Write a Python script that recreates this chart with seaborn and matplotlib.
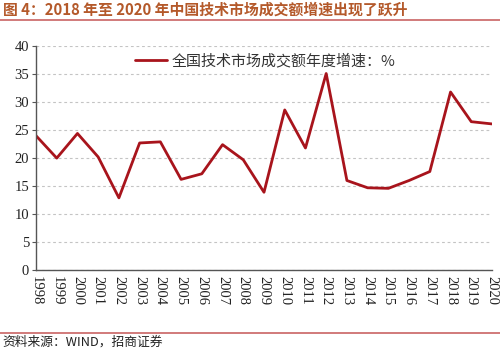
import matplotlib
matplotlib.use("Agg")
import matplotlib.pyplot as plt
from matplotlib.lines import Line2D
import seaborn as sns
import pandas as pd

years = [str(y) for y in range(1998, 2021)]
growth = [24.0, 20.0, 24.4, 20.2, 12.9, 22.7, 22.9, 16.2, 17.2, 22.4, 19.7,
          13.9, 28.6, 21.8, 35.1, 16.0, 14.7, 14.6, 16.0, 17.6, 31.8, 26.5, 26.1]
y_ticks = [0, 5, 10, 15, 20, 25, 30, 35, 40]

title = "图 4：2018 年至 2020 年中国技术市场成交额增速出现了跃升"
series_name = "全国技术市场成交额年度增速：%"
source = "资料来源：WIND，招商证券"

sns.set_theme(style="white")
cjk = ["Noto Sans CJK SC", "DejaVu Sans"]
serif = ["Liberation Serif", "DejaVu Serif"]
plt.rcParams["font.family"] = cjk

df = pd.DataFrame({"year": years, "growth": growth})

fig = plt.figure(figsize=(5.0, 3.49), dpi=100)
ax = fig.add_axes([0.072, 0.226, 0.912, 0.642])

sns.lineplot(data=df, x="year", y="growth", ax=ax, color="#A8141C",
             linewidth=2.0, sort=False, legend=False)

ax.set_xlim(0, len(years) - 1)
ax.set_ylim(0, 40)
ax.set_yticks(y_ticks)
ax.set_yticklabels([str(v) for v in y_ticks], fontfamily=serif, fontsize=10.5,
                   color="#222222")
ax.set_xticks(range(len(years)))
ax.set_xticklabels(years, rotation=-90, fontfamily=serif, fontsize=10.5,
                   color="#222222")
ax.set_xlabel("")
ax.set_ylabel("")

ax.yaxis.grid(True, linestyle=(0, (2.5, 2.5)), color="#C4C4C4", linewidth=0.8)
ax.xaxis.grid(False)
for side in ["top", "right"]:
    ax.spines[side].set_visible(False)
for side in ["left", "bottom"]:
    ax.spines[side].set_color("#555555")
    ax.spines[side].set_linewidth(1.0)
ax.tick_params(axis="y", length=3, width=0.8, color="#555555", pad=2, left=True)
ax.tick_params(axis="x", length=0, pad=4)

handle = Line2D([], [], color="#A8141C", linewidth=2.0)
ax.legend([handle], [series_name], loc="upper left",
          bbox_to_anchor=(0.188, 1.026), frameon=False, handlelength=2.1,
          handletextpad=0.35, prop={"family": cjk, "size": 10.8},
          labelcolor="#333333")

fig.text(0.006, 0.972, title, fontsize=10.7, fontweight="bold",
         color="#B4592A", va="center", ha="left")
fig.add_artist(Line2D([0, 1], [0.944, 0.944], transform=fig.transFigure,
                      color="#C96464", linewidth=1.2))
fig.add_artist(Line2D([0, 1], [0.046, 0.046], transform=fig.transFigure,
                      color="#C96464", linewidth=1.2))
fig.text(0.004, 0.021, source, fontsize=9.2, color="#222222",
         va="center", ha="left")

fig.savefig("out.png", dpi=100)
